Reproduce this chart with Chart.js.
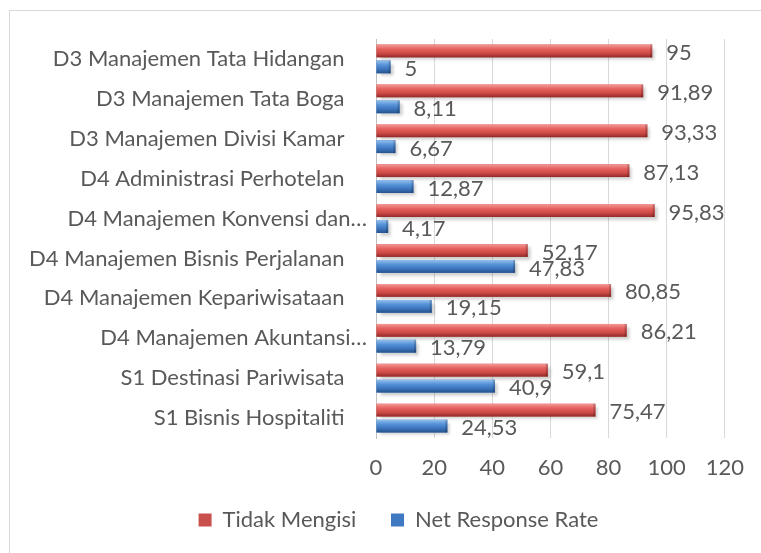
<!DOCTYPE html>
<html>
<head>
<meta charset="utf-8">
<script src="https://cdn.jsdelivr.net/npm/chart.js@4.4.1/dist/chart.umd.min.js"></script>
<style>
  html, body { margin: 0; padding: 0; background: #fff; }
  #wrap { width: 761px; height: 553px; position: relative; }
</style>
</head>
<body>
<div id="wrap"><canvas id="chart"></canvas></div>
<script>
const categories = [
    'D3 Manajemen Tata Hidangan',
    'D3 Manajemen Tata Boga',
    'D3 Manajemen Divisi Kamar',
    'D4 Administrasi Perhotelan',
    'D4 Manajemen Konvensi dan…',
    'D4 Manajemen Bisnis Perjalanan',
    'D4 Manajemen Kepariwisataan',
    'D4 Manajemen Akuntansi…',
    'S1 Destinasi Pariwisata',
    'S1 Bisnis Hospitaliti'
];
const tidakMengisi = [95, 91.89, 93.33, 87.13, 95.83, 52.17, 80.85, 86.21, 59.1, 75.47];
const netResponseRate = [5, 8.11, 6.67, 12.87, 4.17, 47.83, 19.15, 13.79, 40.9, 24.53];
const xTicks = [0, 20, 40, 60, 80, 100, 120];

const FONT = 'Lato';
const TEXT = '#595959';

// bevel-ish gradients like the Excel bars
const shades = [
    ['#f39a98', '#e4615e', '#cc4845', '#8f2a28'],
    ['#96c0ee', '#5592d8', '#3b72b8', '#23538d']
];

const fmt = v => String(v).replace('.', ',');

const barLook = {
    id: 'barLook',
    afterLayout(chart) {
        // legend in the reference sits a little right of centre
        chart.legend.left += 30;
        chart.legend.right += 30;
    },
    beforeDraw(chart) {
        const ctx = chart.ctx;
        ctx.save();
        ctx.strokeStyle = '#d9d9d9';
        ctx.lineWidth = 1;
        ctx.strokeRect(9.5, 10.5, 900, 700);
        ctx.restore();
    },
    beforeDatasetsDraw(chart) {
        const ctx = chart.ctx;
        ctx.save();
        ctx.shadowColor = 'rgba(0,0,0,0.2)';
        ctx.shadowOffsetX = 3;
        ctx.shadowOffsetY = 3;
        ctx.shadowBlur = 3;
    },
    afterDatasetsDraw(chart) {
        const ctx = chart.ctx;
        ctx.restore();
        chart.data.datasets.forEach((ds, di) => {
            const meta = chart.getDatasetMeta(di);
            const c = shades[di];
            meta.data.forEach((el, i) => {
                const p = el.getProps(['x', 'y', 'base', 'height'], true);
                const top = p.y - p.height / 2;
                const g = ctx.createLinearGradient(0, top, 0, top + p.height);
                g.addColorStop(0, c[0]);
                g.addColorStop(0.35, c[1]);
                g.addColorStop(0.7, c[2]);
                g.addColorStop(1, c[3]);
                ctx.fillStyle = g;
                ctx.fillRect(p.base, top, p.x - p.base, p.height);
                // darker rim at the bar end
                ctx.fillStyle = 'rgba(0,0,0,0.18)';
                ctx.fillRect(p.x - 2, top, 2, p.height);

                ctx.fillStyle = TEXT;
                ctx.font = '22px ' + FONT;
                ctx.textAlign = 'left';
                ctx.textBaseline = 'middle';
                ctx.fillText(fmt(ds.data[i]), p.x + 14, p.y + 2);
            });
        });
    }
};

new Chart(document.getElementById('chart'), {
    type: 'bar',
    data: {
        labels: categories,
        datasets: [
            { label: 'Tidak Mengisi', data: tidakMengisi, backgroundColor: '#c9504c', borderWidth: 0 },
            { label: 'Net Response Rate', data: netResponseRate, backgroundColor: '#3f79c2', borderWidth: 0 }
        ]
    },
    options: {
        indexAxis: 'y',
        responsive: true,
        maintainAspectRatio: false,
        animation: false,
        categoryPercentage: 0.8,
        barPercentage: 0.8,
        layout: { padding: { left: 10, right: 34, top: 39, bottom: 12 } },
        scales: {
            x: {
                min: 0,
                max: 120,
                afterBuildTicks: s => { s.ticks = xTicks.map(v => ({ value: v })); },
                grid: { color: '#d9d9d9', drawTicks: false },
                border: { display: false },
                ticks: { color: TEXT, font: { family: FONT, size: 22 }, padding: 17 },
                afterFit: s => { s.height = 42; }
            },
            y: {
                grid: { display: false, drawTicks: false },
                border: { display: true, color: '#bfbfbf' },
                ticks: {
                    color: TEXT,
                    font: { family: FONT, size: 22 },
                    padding: 9,
                    autoSkip: false,
                    callback: function (v) {
                        const l = this.getLabelForValue(v);
                        return l.endsWith('…') ? l : l + '    ';
                    }
                },
                afterFit: s => { s.width = 366; }
            }
        },
        plugins: {
            legend: {
                position: 'bottom',
                labels: {
                    color: TEXT,
                    font: { family: FONT, size: 22 },
                    boxWidth: 13,
                    boxHeight: 13,
                    padding: 29,
                    generateLabels: chart => chart.data.datasets.map((ds, i) => ({
                        text: i === 0 ? ds.label + ' ' : ds.label,
                        fillStyle: i === 0 ? '#c9504c' : '#3f79c2',
                        strokeStyle: 'transparent',
                        lineWidth: 0,
                        fontColor: TEXT,
                        datasetIndex: i
                    }))
                }
            },
            tooltip: { enabled: false }
        }
    },
    plugins: [barLook]
});
</script>
</body>
</html>
